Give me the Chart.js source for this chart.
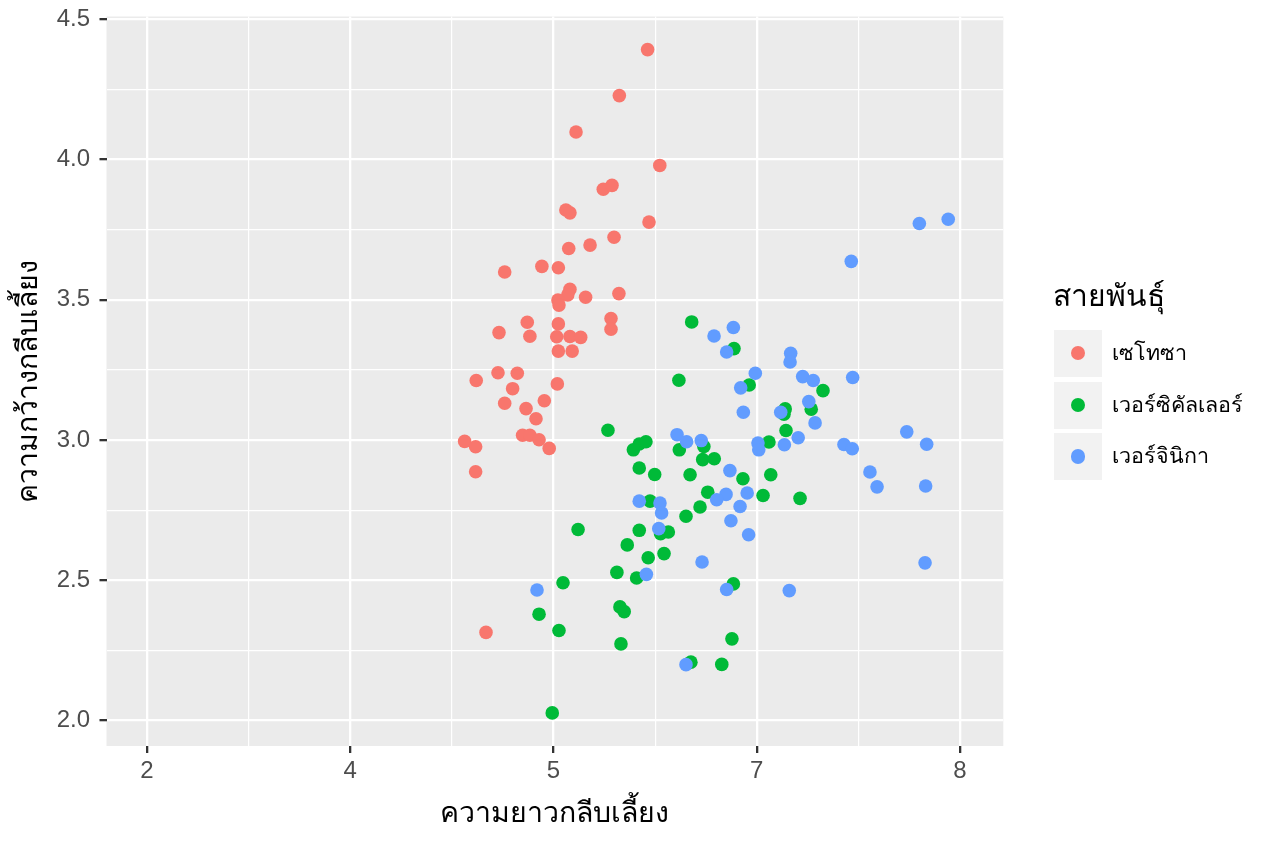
<!DOCTYPE html>
<html><head><meta charset="utf-8">
<script src="https://cdn.jsdelivr.net/npm/chart.js@4.4.1/dist/chart.umd.min.js"></script>
<style>
html,body{margin:0;padding:0;background:#fff;}
#wrap{position:relative;width:1264px;height:843px;overflow:hidden;}
#c{position:absolute;left:0;top:0;}
.lg{position:absolute;font-family:"Liberation Sans","Noto Sans",sans-serif;color:#000;white-space:nowrap;}
.lg-title{left:1053px;top:278px;font-size:30px;line-height:36px;}
.key{position:absolute;left:1054px;width:47.5px;height:47px;background:#F2F2F2;}
.dot{position:absolute;left:16.5px;top:16.2px;width:14.6px;height:14.6px;border-radius:50%;}
.lab{left:1112px;font-size:21.5px;line-height:47px;height:47px;}
</style></head>
<body><div id="wrap"><canvas id="c" width="1264" height="843"></canvas><div id="legend"></div></div>
<script>
const categories = ['เซโทซา','เวอร์ซิคัลเลอร์','เวอร์จินิกา'];
const colors = ['#F8766D','#00BA38','#619CFF'];
const xTickLabels = ['2','4','5','7','8'];
const yTickLabels = ['2.0','2.5','3.0','3.5','4.0','4.5'];
const xTitle = 'ความยาวกลีบเลี้ยง';
const yTitle = 'ความกว้างกลีบเลี้ยง';
const legendTitle = 'สายพันธุ์';

const setosaX = [2.463,2.324,2.111,2.523,2.245,2.288,2.061,2.081,2.470,2.298,2.180,2.075,1.760,1.943,2.024,2.081,2.070,2.158,2.322,2.022,2.027,1.871,2.024,2.283,2.283,1.732,1.884,2.016,2.081,2.134,2.024,2.092,1.727,1.822,1.620,2.019,1.799,1.760,1.955,1.865,1.914,1.848,1.884,1.929,1.563,1.617,1.979,1.617,1.668];
const setosaY = [4.392,4.228,4.098,3.979,3.894,3.908,3.820,3.810,3.777,3.723,3.695,3.683,3.599,3.619,3.614,3.537,3.517,3.509,3.522,3.499,3.481,3.420,3.414,3.433,3.395,3.383,3.370,3.368,3.369,3.366,3.317,3.317,3.240,3.238,3.212,3.200,3.183,3.131,3.140,3.112,3.076,3.017,3.017,3.001,2.995,2.976,2.970,2.887,2.314];
const versicolorX = [2.268,2.422,2.455,2.393,2.617,2.422,2.498,2.475,2.121,2.422,2.565,2.527,2.363,2.466,2.544,2.312,2.409,2.047,1.929,2.327,2.348,2.027,2.332,1.994,2.680,2.888,2.963,3.326,3.140,3.134,3.268,3.144,2.740,2.619,3.060,2.734,2.791,2.672,2.932,3.069,2.759,3.031,3.213,2.721,2.652,2.885,2.878,2.676,2.828];
const versicolorY = [3.035,2.986,2.994,2.965,3.213,2.900,2.877,2.782,2.681,2.678,2.672,2.666,2.626,2.580,2.595,2.528,2.508,2.491,2.379,2.405,2.388,2.321,2.273,2.027,3.421,3.326,3.196,3.176,3.111,3.092,3.110,3.034,2.977,2.965,2.993,2.930,2.933,2.876,2.862,2.876,2.814,2.802,2.792,2.761,2.728,2.487,2.291,2.208,2.200];
const virginicaX = [2.608,2.422,2.524,2.532,2.518,2.457,1.919,2.790,2.885,2.852,3.167,3.164,2.993,2.921,3.226,3.278,3.472,2.934,3.118,3.256,3.287,2.655,2.727,3.006,3.010,3.136,3.204,3.429,3.470,2.868,2.849,2.803,2.953,2.918,2.873,2.960,2.731,2.852,3.160,2.652,3.800,3.942,3.465,3.738,3.836,3.557,3.592,3.831,3.828];
const virginicaY = [3.019,2.782,2.775,2.740,2.684,2.521,2.465,3.371,3.401,3.314,3.309,3.278,3.238,3.186,3.226,3.212,3.223,3.099,3.099,3.137,3.061,2.994,2.998,2.989,2.965,2.983,3.008,2.984,2.969,2.891,2.806,2.787,2.811,2.763,2.712,2.662,2.565,2.467,2.463,2.199,3.772,3.787,3.637,3.029,2.985,2.886,2.833,2.836,2.562];

const seriesX = [setosaX, versicolorX, virginicaX];
const seriesY = [setosaY, versicolorY, virginicaY];
const FONT = '"Liberation Sans","Noto Sans",sans-serif';

const datasets = categories.map((name, i) => ({
  label: name,
  data: seriesX[i].map((x, j) => ({x: x, y: seriesY[i][j]})),
  backgroundColor: colors[i],
  borderWidth: 0,
  pointRadius: 6.8,
  pointHoverRadius: 6.8,
  order: 3 - i
}));

const panelBg = {
  id: 'panelBg',
  beforeDraw(chart) {
    const {ctx, chartArea: a} = chart;
    ctx.save();
    ctx.fillStyle = '#EBEBEB';
    ctx.fillRect(a.left, a.top, a.right - a.left, a.bottom - a.top);
    ctx.restore();
  }
};

const yVals = yTickLabels.map(Number);
const isMajorX = v => Math.abs(v - Math.round(v)) < 1e-6;
const isMajorY = v => yVals.some(t => Math.abs(t - v) < 1e-6);

new Chart(document.getElementById('c'), {
  type: 'scatter',
  data: { datasets },
  plugins: [panelBg],
  options: {
    responsive: false,
    animation: false,
    devicePixelRatio: 1,
    layout: { padding: { left: 0, top: 16.5, right: 260.7, bottom: 0 } },
    plugins: { legend: { display: false }, tooltip: { enabled: false } },
    scales: {
      x: {
        type: 'linear', min: -0.199, max: 4.213,
        afterBuildTicks(s) {
          const t = [];
          for (let i = 0; i < xTickLabels.length; i++) {
            t.push({value: i});
            if (i < xTickLabels.length - 1) t.push({value: i + 0.5});
          }
          s.ticks = t;
        },
        afterFit(s) { s.height = 97; s.paddingLeft = 0; s.paddingRight = 0; },
        border: { display: false },
        grid: {
          color: '#FFFFFF',
          lineWidth: c => (c.tick && isMajorX(c.tick.value)) ? 2.3 : 1.2,
          tickColor: c => (c.tick && isMajorX(c.tick.value)) ? '#333333' : 'rgba(0,0,0,0)',
          tickWidth: 2.3,
          tickLength: 7,
          drawTicks: true
        },
        ticks: {
          autoSkip: false, maxRotation: 0, padding: 4,
          color: '#4D4D4D', font: { family: FONT, size: 24 },
          callback: v => isMajorX(v) ? xTickLabels[Math.round(v)] : ''
        },
        title: { display: true, text: xTitle, color: '#000', font: { family: FONT, size: 28.5 }, padding: { top: 12, bottom: 12 } }
      },
      y: {
        type: 'linear', min: 1.909, max: 4.510,
        afterBuildTicks(s) {
          const t = [];
          for (let i = 0; i < yVals.length; i++) {
            t.push({value: yVals[i]});
            if (i < yVals.length - 1) t.push({value: (yVals[i] + yVals[i + 1]) / 2});
          }
          s.ticks = t;
        },
        afterFit(s) { s.width = 106.5; s.paddingTop = 0; s.paddingBottom = 0; },
        border: { display: false },
        grid: {
          color: '#FFFFFF',
          lineWidth: c => (c.tick && isMajorY(c.tick.value)) ? 2.3 : 1.2,
          tickColor: c => (c.tick && isMajorY(c.tick.value)) ? '#333333' : 'rgba(0,0,0,0)',
          tickWidth: 2.3,
          tickLength: 7,
          drawTicks: true
        },
        ticks: {
          autoSkip: false, padding: 9.5,
          color: '#4D4D4D', font: { family: FONT, size: 24 },
          callback: v => { const k = yVals.findIndex(t => Math.abs(t - v) < 1e-6); return k >= 0 ? yTickLabels[k] : ''; }
        },
        title: { display: true, text: yTitle, color: '#000', font: { family: FONT, size: 28.5 }, padding: { top: 12, bottom: 12 } }
      }
    }
  }
});

// legend
const lg = document.getElementById('legend');
const t = document.createElement('div');
t.className = 'lg lg-title'; t.textContent = legendTitle; lg.appendChild(t);
const keyTops = [329.5, 381.5, 433];
categories.forEach((name, i) => {
  const k = document.createElement('div');
  k.className = 'key'; k.style.top = keyTops[i] + 'px';
  const d = document.createElement('div');
  d.className = 'dot'; d.style.background = colors[i];
  k.appendChild(d); lg.appendChild(k);
  const l = document.createElement('div');
  l.className = 'lg lab'; l.style.top = keyTops[i] + 'px'; l.textContent = name;
  lg.appendChild(l);
});
</script>
</body></html>
